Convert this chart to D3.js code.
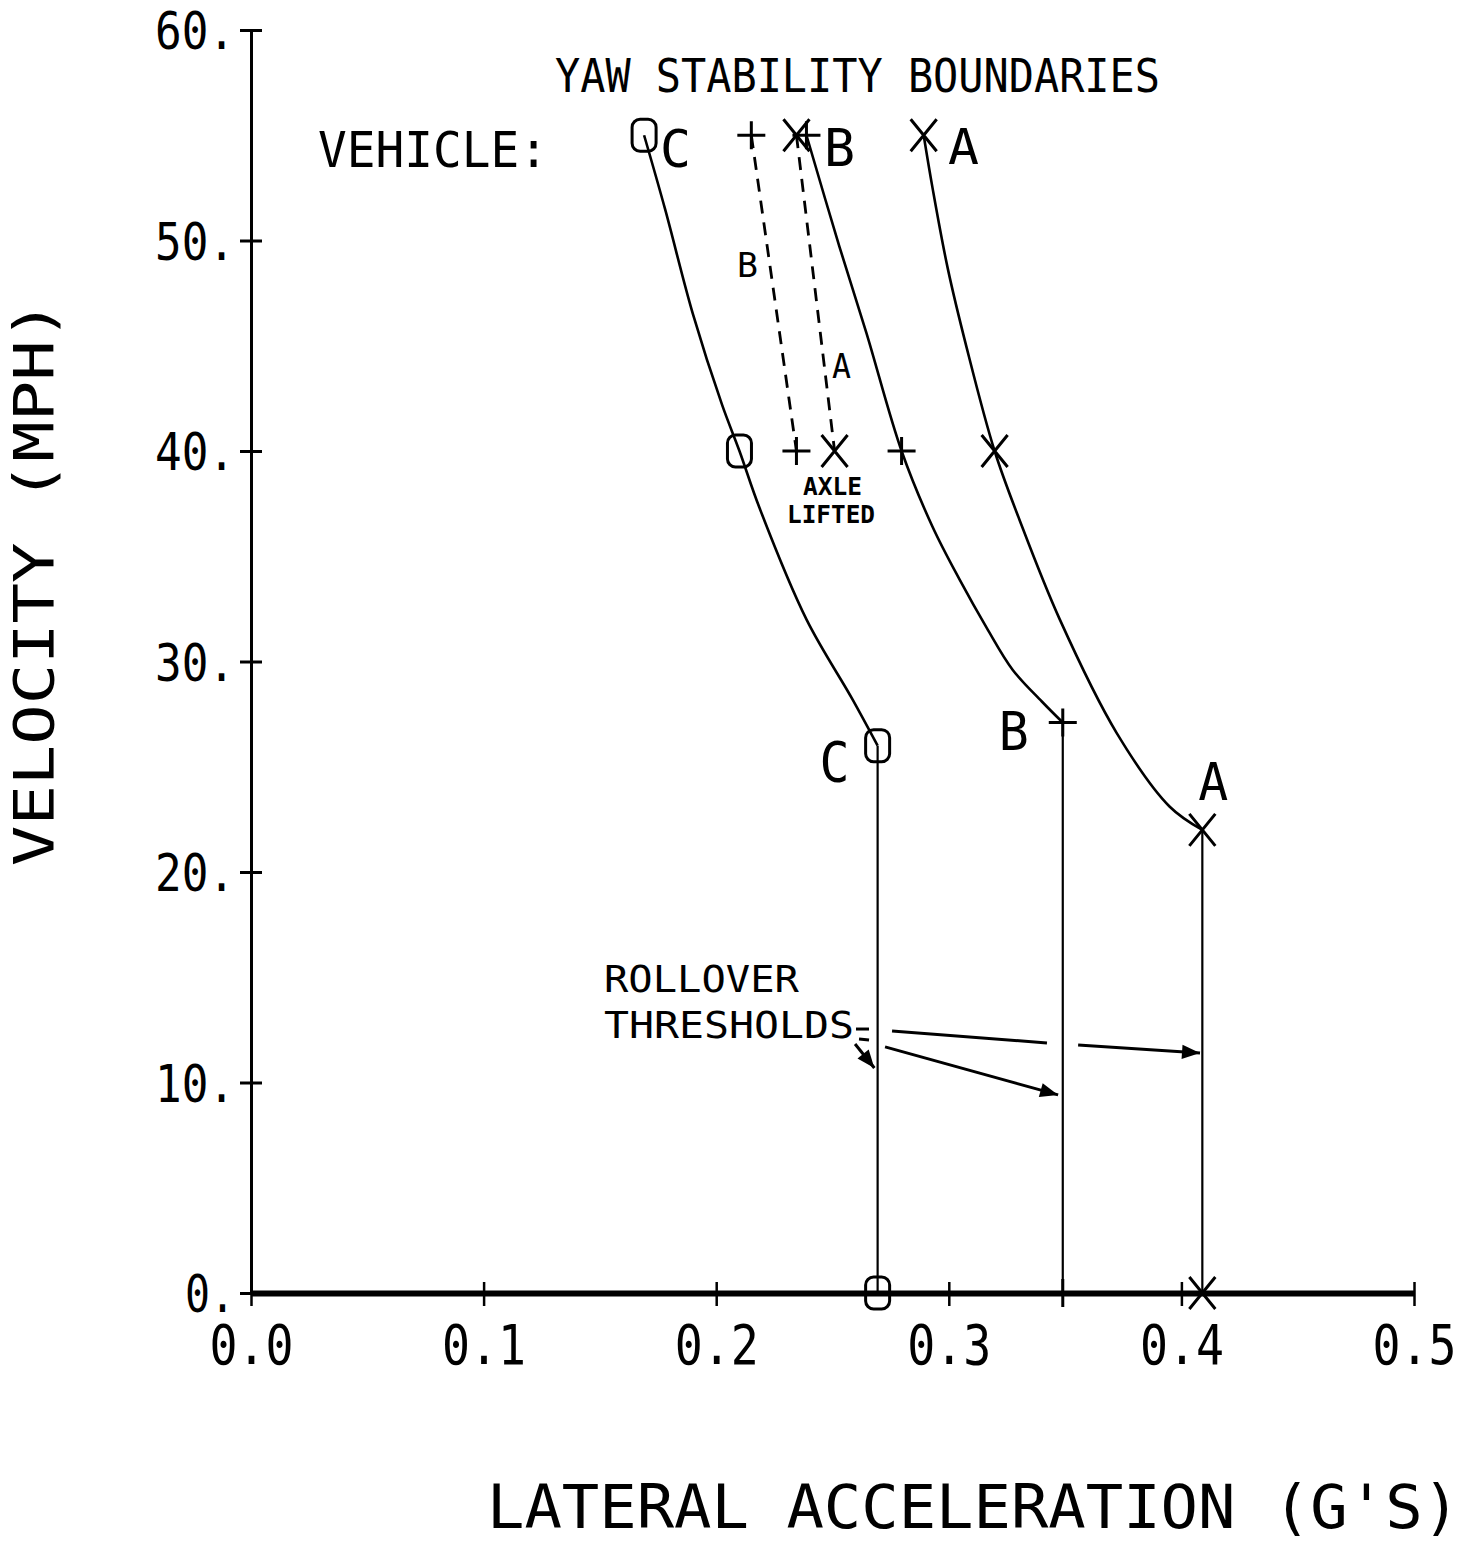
<!DOCTYPE html>
<html>
<head>
<meta charset="utf-8">
<script src="https://cdn.jsdelivr.net/npm/d3@7"></script>
<style>
  html, body { margin: 0; padding: 0; background: #fff; }
  svg { display: block; }
  text { font-family: "DejaVu Sans Mono", "Liberation Mono", monospace; fill: #000; }
</style>
</head>
<body>
<svg id="chart" width="1476" height="1541"></svg>
<script>
// Yaw stability boundaries: velocity vs lateral acceleration for vehicles A, B, C

// Axis ticks
const xTicks = [0, 0.1, 0.2, 0.3, 0.4, 0.5];
const xTickLabels = ["0.0", "0.1", "0.2", "0.3", "0.4", "0.5"];
const yTicks = [0, 10, 20, 30, 40, 50, 60];
const yTickLabels = ["0.", "10.", "20.", "30.", "40.", "50.", "60."];

// Yaw stability boundary traces [lateral accel (g), velocity (mph)]
const vehicleC = [
  [0.169, 55], [0.178, 51.5], [0.190, 46.5], [0.2025, 42.2], [0.210, 40],
  [0.2186, 37.3], [0.2388, 32.0], [0.2586, 28.2], [0.2694, 26.0]
];
const vehicleB = [
  [0.2388, 55], [0.2530, 49.7], [0.2646, 45.6], [0.2797, 40],
  [0.2930, 36.4], [0.3046, 33.9], [0.3163, 31.6], [0.3275, 29.6],
  [0.3400, 28.1], [0.349, 27.1]
];
const vehicleA = [
  [0.2892, 55], [0.2930, 52.5], [0.2995, 48.7], [0.3077, 44.9], [0.3197, 40],
  [0.3305, 36.7], [0.3477, 32.0], [0.3722, 26.6], [0.3950, 23.1], [0.409, 22.0]
];

// Axle-lifted boundaries (dashed)
const axleLiftedB = [[0.2151, 55], [0.2345, 40]];
const axleLiftedA = [[0.2345, 55], [0.2509, 40]];

// Rollover thresholds (g) and the speed at which each boundary meets it
const rolloverC = [[0.2694, 26.0], [0.2694, 0]];
const rolloverB = [[0.349, 27.1], [0.349, 0]];
const rolloverA = [[0.409, 22.0], [0.409, 0]];

// Plotted symbols
const markersC = [[0.169, 55], [0.210, 40], [0.2694, 26.0], [0.2694, 0]];
const markersB = [[0.2388, 55], [0.2797, 40], [0.349, 27.1], [0.349, 0]];
const markersA = [[0.2892, 55], [0.3197, 40], [0.409, 22.0], [0.409, 0]];
const markersLiftB = [[0.2151, 55], [0.2345, 40]];
const markersLiftA = [[0.2345, 55], [0.2509, 40]];

// Pointer arrows for the "ROLLOVER THRESHOLDS" note
const thresholdArrows = [
  { from: [0.2597, 11.83], to: [0.2680, 10.69], head: true },
  { from: [0.2726, 11.69], to: [0.3470, 9.41], head: true },
  { from: [0.2756, 12.45], to: [0.3422, 11.88], head: false },
  { from: [0.3556, 11.78], to: [0.4080, 11.40], head: true },
  { from: [0.2601, 12.54], to: [0.2657, 12.54], head: false },
  { from: [0.2614, 12.07], to: [0.2657, 12.02], head: false }
];

const svg = d3.select("#chart");
svg.append("rect").attr("width", 1476).attr("height", 1541).attr("fill", "#fff");

const x = d3.scaleLinear().domain([0, 0.5]).range([251, 1414]);
const y = d3.scaleLinear().domain([0, 60]).range([1293, 30]);

svg.append("defs").append("marker")
  .attr("id", "arrow")
  .attr("viewBox", "0 0 10 10")
  .attr("refX", 10).attr("refY", 5)
  .attr("markerWidth", 7).attr("markerHeight", 6)
  .attr("markerUnits", "strokeWidth")
  .attr("orient", "auto")
  .append("path").attr("d", "M0,1 L10,5 L0,9 Z").attr("fill", "#000");

// Y axis
const yAxis = svg.append("g")
  .attr("transform", `translate(${x(0)},0)`)
  .call(d3.axisLeft(y).tickValues(yTicks)
    .tickFormat((d, i) => yTickLabels[i])
    .tickSizeInner(11).tickSizeOuter(0).tickPadding(5));
yAxis.select(".domain").attr("stroke", "#000").attr("stroke-width", 3);
yAxis.selectAll(".tick line").attr("x1", -11).attr("x2", 11).attr("stroke", "#000").attr("stroke-width", 3);
yAxis.selectAll(".tick text")
  .attr("font-size", 52).attr("font-family", "DejaVu Sans Mono").attr("dy", "0.36em")
  .attr("textLength", function (d) { return d === 0 ? 50 : 80; })
  .attr("lengthAdjust", "spacingAndGlyphs");

// X axis
const xAxis = svg.append("g")
  .attr("transform", `translate(0,${y(0)})`)
  .call(d3.axisBottom(x).tickValues(xTicks)
    .tickFormat((d, i) => xTickLabels[i])
    .tickSizeInner(13).tickSizeOuter(0).tickPadding(19));
xAxis.select(".domain").attr("stroke", "#000").attr("stroke-width", 6);
xAxis.selectAll(".tick line").attr("y1", -11).attr("y2", 13).attr("stroke", "#000").attr("stroke-width", 2.5);
xAxis.selectAll(".tick text")
  .attr("font-size", 55).attr("font-family", "DejaVu Sans Mono")
  .attr("textLength", 84).attr("lengthAdjust", "spacingAndGlyphs");

// Boundary curves
const curve = d3.line().x(d => x(d[0])).y(d => y(d[1])).curve(d3.curveCatmullRom.alpha(0.5));
const straight = d3.line().x(d => x(d[0])).y(d => y(d[1]));

[vehicleC, vehicleB, vehicleA].forEach(pts => {
  svg.append("path").attr("d", curve(pts))
    .attr("fill", "none").attr("stroke", "#000").attr("stroke-width", 2.6)
    .attr("stroke-linejoin", "round");
});
[rolloverC, rolloverB, rolloverA].forEach(pts => {
  svg.append("path").attr("d", straight(pts))
    .attr("fill", "none").attr("stroke", "#000").attr("stroke-width", 2.2);
});
[axleLiftedB, axleLiftedA].forEach(pts => {
  svg.append("path").attr("d", straight(pts))
    .attr("fill", "none").attr("stroke", "#000").attr("stroke-width", 2.8)
    .attr("stroke-dasharray", "13,9");
});

// Symbols
const symbols = svg.append("g").attr("fill", "none").attr("stroke", "#000").attr("stroke-width", 3);
function drawCircle(pts) {
  symbols.selectAll(null).data(pts).enter().append("rect")
    .attr("x", d => x(d[0]) - 12).attr("y", d => y(d[1]) - 16)
    .attr("width", 24).attr("height", 32).attr("rx", 8).attr("ry", 8);
}
function drawPlus(pts) {
  symbols.selectAll(null).data(pts).enter().append("path")
    .attr("d", d => `M${x(d[0]) - 14},${y(d[1])}h28M${x(d[0])},${y(d[1]) - 14}v28`);
}
function drawCross(pts) {
  symbols.selectAll(null).data(pts).enter().append("path")
    .attr("d", d => `M${x(d[0]) - 13},${y(d[1]) - 16}l26,32M${x(d[0]) + 13},${y(d[1]) - 16}l-26,32`);
}
drawCircle(markersC);
drawPlus(markersB);
drawCross(markersA);
drawPlus(markersLiftB);
drawCross(markersLiftA);

// Rollover threshold pointers
thresholdArrows.forEach(a => {
  const p = svg.append("line")
    .attr("x1", x(a.from[0])).attr("y1", y(a.from[1]))
    .attr("x2", x(a.to[0])).attr("y2", y(a.to[1]))
    .attr("stroke", "#000").attr("stroke-width", 3);
  if (a.head) p.attr("marker-end", "url(#arrow)");
});

// Text
function label(txt, px, py, size, opts = {}) {
  const t = svg.append("text").attr("x", px).attr("y", py)
    .attr("font-size", size).text(txt);
  if (opts.len) t.attr("textLength", opts.len).attr("lengthAdjust", "spacingAndGlyphs");
  if (opts.anchor) t.attr("text-anchor", opts.anchor);
  if (opts.weight) t.attr("font-weight", opts.weight);
  if (opts.transform) t.attr("transform", opts.transform);
  return t;
}

label("YAW STABILITY BOUNDARIES", 555, 92, 46, { len: 605 });
label("VEHICLE:", 318, 167, 50, { len: 230 });
label("C", 660, 167, 52, { len: 31 });
label("B", 824, 166, 52, { len: 31 });
label("A", 948, 164, 50, { len: 31 });

label("C", x(0.2694) - 58, y(26.0) + 35, 56, { len: 30 });
label("B", x(0.349) - 64, y(27.1) + 27, 54, { len: 30 });
label("A", x(0.409) - 4, y(22.0) - 30, 52, { len: 30 });

label("B", 737, 277, 34, { len: 21 });
label("A", 832, 378, 34, { len: 19 });
label("AXLE", 803, 495, 24, { len: 59, weight: "bold" });
label("LIFTED", 787, 523, 24, { len: 88, weight: "bold" });

label("ROLLOVER", 604, 992, 38, { len: 195 });
label("THRESHOLDS", 604, 1038, 38, { len: 250 });

label("VELOCITY (MPH)", 0, 0, 56, { len: 566, anchor: "middle", transform: "translate(53,583) rotate(-90)" });
label("LATERAL ACCELERATION (G'S)", 487, 1528, 60, { len: 973 });
</script>
</body>
</html>
